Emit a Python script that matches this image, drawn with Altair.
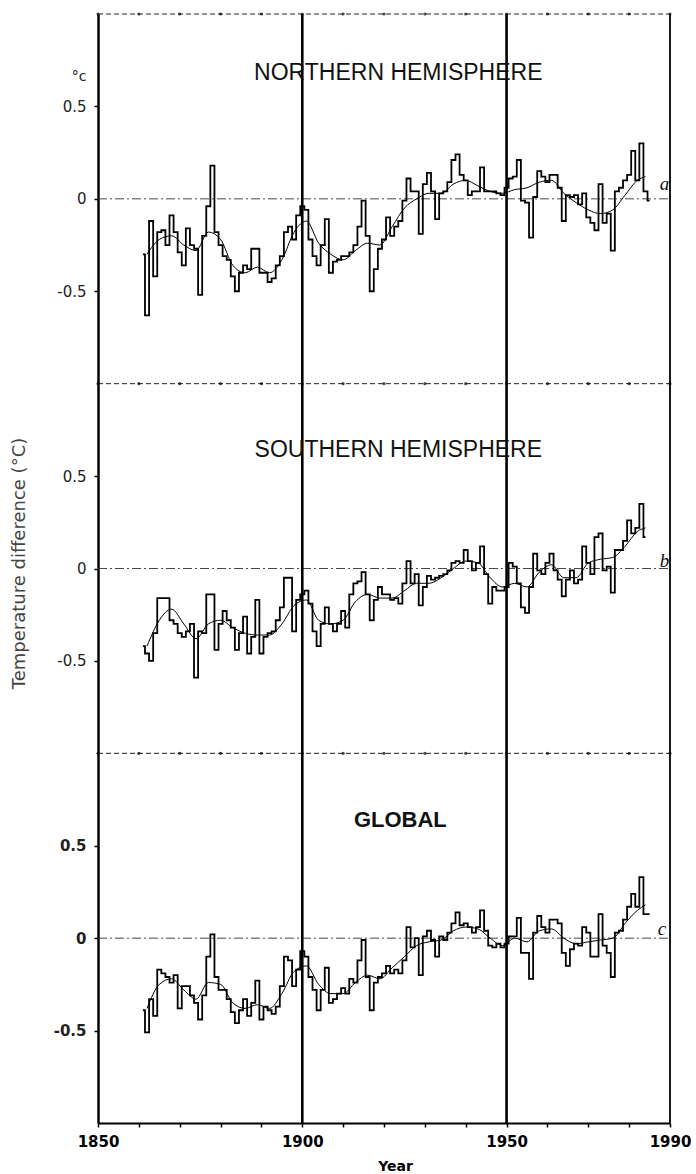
import altair as alt
import pandas as pd

# ---------------- data ----------------
PANEL_NAMES = ["NORTHERN HEMISPHERE", "SOUTHERN HEMISPHERE", "GLOBAL"]
PANEL_OFFSETS = [2, 0, -2]          # each panel spans -1..1 in its own band
CURVE_LABELS = ["a", "b", "c"]

NH_START = 1861
NH_VALUES = [
    -0.30, -0.63, -0.12, -0.42, -0.18, -0.17, -0.25, -0.09, -0.18, -0.29,
    -0.36, -0.16, -0.25, -0.27, -0.52, -0.20, -0.04, 0.18, -0.18, -0.25,
    -0.31, -0.33, -0.42, -0.50, -0.40, -0.36, -0.38, -0.27, -0.27, -0.40,
    -0.40, -0.45, -0.43, -0.36, -0.31, -0.18, -0.15, -0.22, -0.09, -0.04,
    -0.06, -0.22, -0.31, -0.36, -0.25, -0.11, -0.40, -0.34, -0.33, -0.31,
    -0.31, -0.29, -0.25, -0.15, -0.01, -0.20, -0.50, -0.38, -0.27, -0.22,
    -0.10, -0.20, -0.15,
    -0.12, -0.01, 0.11, 0.04, 0.04, -0.19, 0.08, 0.14, 0.04, -0.11,
    0.03, 0.04, 0.09, 0.21, 0.24, 0.13, 0.10, 0.02, 0.04, 0.04,
    0.17, 0.04, 0.04, 0.04, 0.03, 0.02, 0.06, 0.11, 0.12, 0.21,
    -0.01, -0.02, -0.21, 0.01, 0.15, 0.12, 0.09, 0.13, 0.13, 0.06,
    -0.12, 0.02, 0.01, 0.02, -0.03, 0.03, -0.10, -0.13, -0.17, 0.08,
    -0.13, -0.08, -0.28, 0.04, 0.06, 0.10, 0.13, 0.26, 0.10, 0.30,
    0.04, -0.01,
]

SH_START = 1861
SH_VALUES = [
    -0.42, -0.46, -0.50, -0.35, -0.16, -0.16, -0.16, -0.28, -0.30, -0.35,
    -0.37, -0.34, -0.30, -0.59, -0.34, -0.35, -0.14, -0.14, -0.44, -0.30,
    -0.23, -0.28, -0.32, -0.44, -0.35, -0.26, -0.46, -0.37, -0.17, -0.46,
    -0.37, -0.35, -0.34, -0.28, -0.21, -0.05, -0.05, -0.34, -0.17, -0.14,
    -0.12, -0.19, -0.34, -0.42, -0.30, -0.21, -0.30, -0.34, -0.30, -0.23,
    -0.32, -0.14, -0.08, -0.07, -0.02, -0.14, -0.28, -0.17, -0.10, -0.14,
    -0.14, -0.17, -0.16, -0.19,
    -0.08, 0.04, -0.08, -0.03, -0.20, -0.10, -0.04, -0.06, -0.05, -0.04,
    -0.03, -0.01, 0.03, 0.04, 0.03, 0.10, 0.04, -0.01, 0.03, 0.12,
    -0.03, -0.19, -0.10, -0.12, -0.12, -0.10, 0.03, 0.01, -0.08, -0.21,
    -0.24, -0.10, 0.08, -0.01, -0.03, 0.03, 0.08, -0.01, -0.06, -0.15,
    -0.06, -0.01, -0.08, -0.06, 0.12, 0.03, -0.03, 0.17, 0.19, -0.01,
    0.01, -0.13, 0.10, 0.10, 0.15, 0.26, 0.19, 0.22, 0.35, 0.17,
]

GL_START = 1861
GL_VALUES = [
    -0.39, -0.51, -0.33, -0.42, -0.17, -0.19, -0.21, -0.24, -0.20, -0.38,
    -0.26, -0.26, -0.31, -0.35, -0.44, -0.31, -0.10, 0.02, -0.21, -0.28,
    -0.28, -0.33, -0.40, -0.46, -0.39, -0.33, -0.42, -0.35, -0.23, -0.44,
    -0.37, -0.39, -0.41, -0.37, -0.26, -0.10, -0.12, -0.26, -0.17, -0.07,
    -0.10, -0.21, -0.28, -0.39, -0.28, -0.16, -0.35, -0.33, -0.30, -0.27,
    -0.30, -0.22, -0.24, -0.12, -0.01, -0.21, -0.39, -0.24, -0.21, -0.19,
    -0.15, -0.19, -0.17, -0.19, -0.12,
    0.06, -0.05, 0.00, -0.20, 0.01, 0.04, -0.01, -0.10, 0.01, -0.01,
    0.03, 0.08, 0.14, 0.07, 0.08, 0.06, 0.03, 0.06, 0.15, 0.04,
    -0.04, -0.05, -0.03, -0.05, -0.03, 0.01, 0.01, 0.11, -0.08, -0.08,
    -0.22, 0.03, 0.12, 0.06, 0.03, 0.10, 0.10, 0.08, -0.08, -0.15,
    -0.06, -0.03, -0.04, 0.06, 0.03, -0.10, -0.10, 0.13, -0.04, -0.08,
    -0.21, 0.03, 0.04, 0.10, 0.17, 0.24, 0.17, 0.33, 0.13, 0.13,
]

SMOOTH_YEARS = [1862, 1865, 1868, 1871, 1874, 1877, 1880, 1883, 1886, 1889,
                1892, 1895, 1898, 1901, 1904, 1907, 1910, 1913, 1916, 1919,
                1922, 1925, 1928, 1931, 1934, 1937, 1940, 1943, 1946, 1949,
                1952, 1955, 1958, 1961, 1964, 1967, 1970, 1973, 1976, 1979,
                1982, 1984]
NH_SMOOTH = [-0.30, -0.22, -0.20, -0.25, -0.28, -0.18, -0.22, -0.36, -0.40, -0.37,
             -0.40, -0.33, -0.18, -0.12, -0.24, -0.30, -0.33, -0.28, -0.24, -0.25,
             -0.15, -0.05, 0.00, 0.03, 0.03, 0.08, 0.10, 0.07, 0.04, 0.03,
             0.05, 0.06, 0.09, 0.10, 0.03, -0.02, -0.06, -0.08, -0.06, 0.02,
             0.10, 0.12]
SH_SMOOTH = [-0.42, -0.28, -0.22, -0.30, -0.38, -0.30, -0.28, -0.32, -0.35, -0.36,
             -0.36, -0.30, -0.20, -0.17, -0.28, -0.30, -0.28, -0.18, -0.14, -0.16,
             -0.16, -0.12, -0.08, -0.08, -0.05, 0.00, 0.04, 0.03, -0.05, -0.10,
             -0.08, -0.10, -0.02, 0.02, -0.05, -0.05, 0.03, 0.05, 0.06, 0.12,
             0.20, 0.22]
GL_SMOOTH = [-0.38, -0.25, -0.22, -0.28, -0.33, -0.24, -0.25, -0.35, -0.38, -0.36,
             -0.38, -0.30, -0.18, -0.15, -0.25, -0.30, -0.30, -0.24, -0.20, -0.22,
             -0.16, -0.10, -0.04, -0.02, -0.01, 0.04, 0.06, 0.05, 0.00, -0.04,
             0.00, -0.02, 0.04, 0.05, 0.00, -0.03, -0.02, -0.01, 0.00, 0.08,
             0.15, 0.18]

X_TICK_YEARS = [1850, 1860, 1870, 1880, 1890, 1900, 1910, 1920, 1930, 1940,
                1950, 1960, 1970, 1980, 1990]
Y_TICKS_LOCAL = [0.5, 0, -0.5]
EPOCH_LINES = [1900, 1950]
X_MIN, X_MAX = 1850, 1990

# ---------------- tables ----------------
annual_rows = []
for name, off, start, vals in zip(PANEL_NAMES, PANEL_OFFSETS,
                                  [NH_START, SH_START, GL_START],
                                  [NH_VALUES, SH_VALUES, GL_VALUES]):
    for i, v in enumerate(vals):
        annual_rows.append({"panel": name, "year": start + i, "value": v, "offset": off})
annual_df = pd.DataFrame(annual_rows)

smooth_rows = []
for name, off, vals in zip(PANEL_NAMES, PANEL_OFFSETS, [NH_SMOOTH, SH_SMOOTH, GL_SMOOTH]):
    for y, v in zip(SMOOTH_YEARS, vals):
        smooth_rows.append({"panel": name, "year": y, "value": v, "offset": off})
smooth_df = pd.DataFrame(smooth_rows)

y_tick_values = [off + t for off in PANEL_OFFSETS for t in Y_TICKS_LOCAL]
borders_df = pd.DataFrame({"c": [3, 1, -1], "year": [X_MIN] * 3, "x2": [X_MAX] * 3})
zeros_df = pd.DataFrame({"c": PANEL_OFFSETS, "year": [X_MIN] * 3, "x2": [X_MAX] * 3})
dots_df = pd.DataFrame([{"year": yr, "c": c} for c in [3, 1, -1] for yr in X_TICK_YEARS])
epoch_df = pd.DataFrame({"year": EPOCH_LINES, "c": [-3, -3], "c2": [3, 3]})
right_df = pd.DataFrame({"year": [X_MAX], "c": [-3], "c2": [3]})
titles_df = pd.DataFrame({"panel": PANEL_NAMES, "year": [1923.5, 1923.5, 1924],
                          "c": [2.68, 0.64, -1.36],
                          "weight": ["normal", "normal", "bold"]})
letters_df = pd.DataFrame({"label": CURVE_LABELS, "year": [1987.5, 1987.5, 1987.0],
                           "c": [2.08, 0.04, -1.95]})
unit_df = pd.DataFrame({"label": ["°c"], "year": [X_MIN], "c": [2.66]})

xs = alt.Scale(domain=[X_MIN, X_MAX], nice=False, zero=False)
ys = alt.Scale(domain=[-3, 3], nice=False, zero=False)

x_axis = alt.Axis(
    values=X_TICK_YEARS, format="d",
    labelExpr="(datum.value==1850||datum.value==1900||datum.value==1950||datum.value==1990) ? datum.label : ''",
    title="Year", titleFontSize=14, titleFontWeight="bold", titleFont="DejaVu Sans",
    titlePadding=10, titleColor="black", titleX=297,
    labelFontSize=15, labelFontWeight="bold", labelFont="DejaVu Sans",
    labelColor="black", labelFlush=False, labelPadding=7, labelOverlap=False,
    tickSize=4, tickColor="black", tickWidth=1.5,
    domainColor="black", domainWidth=2, grid=False,
)
y_axis = alt.Axis(
    values=y_tick_values,
    labelExpr="(datum.value % 2 == 0) ? '0' : (((datum.value + 4) % 2 == 0.5) ? '0.5' : '-0.5')",
    labelFontSize=15, labelFont="DejaVu Sans", labelColor="#222",
    labelFontWeight={"condition": {"test": "datum.value < -1", "value": "bold"}, "value": "normal"},
    labelPadding=8,
    tickSize=4, tickColor="black", tickWidth=1.5,
    domainColor="black", domainWidth=2.5, grid=False,
    title="Temperature difference (°C)", titleFontSize=18, titleFont="DejaVu Sans",
    titleFontWeight="normal", titleColor="#444", titleX=-70, titleY=549,
)


def X(field):
    return alt.X(field, scale=xs, axis=x_axis)


def Y(field):
    return alt.Y(field, scale=ys, axis=y_axis)


annual = alt.Chart(annual_df).transform_calculate(
    c="datum.value + datum.offset"
).mark_line(interpolate="step", color="black", strokeWidth=1.8).encode(
    x=X("year:Q"), y=Y("c:Q"), detail="panel:N",
)

smooth = alt.Chart(smooth_df).transform_calculate(
    c="datum.value + datum.offset"
).mark_line(interpolate="monotone", color="black", strokeWidth=1.0).encode(
    x=X("year:Q"), y=Y("c:Q"), detail="panel:N",
)

borders = alt.Chart(borders_df).mark_rule(color="#222", strokeWidth=1.0, strokeDash=[5, 3]).encode(
    x=X("year:Q"), x2="x2:Q", y=Y("c:Q")
)
zeros = alt.Chart(zeros_df).mark_rule(color="#333", strokeWidth=0.9, strokeDash=[9, 3, 2, 3]).encode(
    x=X("year:Q"), x2="x2:Q", y=Y("c:Q")
)
dots = alt.Chart(dots_df).mark_point(filled=True, color="black", size=10).encode(
    x=X("year:Q"), y=Y("c:Q")
)
epochs = alt.Chart(epoch_df).mark_rule(color="black", strokeWidth=2.6).encode(
    x=X("year:Q"), y=Y("c:Q"), y2="c2:Q"
)
right_edge = alt.Chart(right_df).mark_rule(color="black", strokeWidth=1.8).encode(
    x=X("year:Q"), y=Y("c:Q"), y2="c2:Q"
)
titles_norm = alt.Chart(titles_df).transform_filter("datum.weight == 'normal'").mark_text(
    font="Liberation Sans", fontSize=23, color="#111", align="center", baseline="middle"
).encode(x=X("year:Q"), y=Y("c:Q"), text="panel:N")
titles_bold = alt.Chart(titles_df).transform_filter("datum.weight == 'bold'").mark_text(
    font="Liberation Sans", fontSize=22, fontWeight="bold", color="#111", align="center", baseline="middle"
).encode(x=X("year:Q"), y=Y("c:Q"), text="panel:N")
letters = alt.Chart(letters_df).mark_text(
    font="Liberation Serif", fontSize=19, fontStyle="italic", color="#111", align="left", baseline="middle"
).encode(x=X("year:Q"), y=Y("c:Q"), text="label:N")
unit = alt.Chart(unit_df).mark_text(
    font="DejaVu Sans", fontSize=14, color="#222", align="center", baseline="middle", dx=-19
).encode(x=X("year:Q"), y=Y("c:Q"), text="label:N")

chart = alt.layer(
    borders, zeros, dots, epochs, right_edge, smooth, annual,
    titles_norm, titles_bold, letters, unit,
).properties(
    width=572, height=1109,
    autosize=alt.AutoSizeParams(type="none"),
    padding={"left": 98, "top": 14, "right": 26, "bottom": 51},
    background="white",
).configure_view(stroke=None)

chart.save("out.html", embed_options={"renderer": "svg", "actions": False})
